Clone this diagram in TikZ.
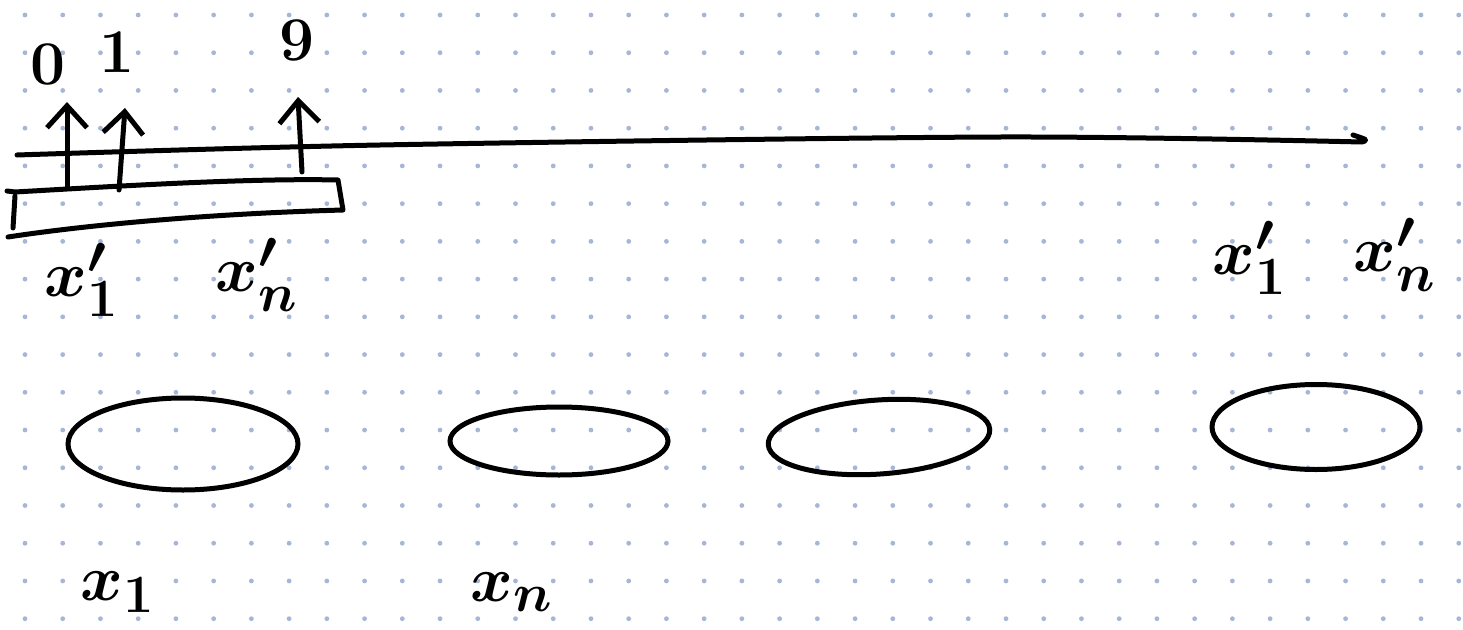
\documentclass[tikz,border=0pt]{standalone}
\usetikzlibrary{arrows.meta, shapes.geometric}
\definecolor{dotcolor}{RGB}{165,182,214}
\tikzset{
  pen/.style={line width=5pt, line cap=round, line join=round},
  uparrow/.style={pen, -{Straight Barb[length=22pt,width=40pt]}},
  loopnode/.style={ellipse, draw, line width=5pt, inner sep=0pt},
  digitlabel/.style={font=\Huge\bfseries, scale=2.5, transform shape, inner sep=0pt},
  varlabel/.style={font=\Huge\boldmath, scale=2.6, transform shape, inner sep=0pt},
}

\begin{document}
\begin{tikzpicture}[x=1pt, y=-1pt]
    \useasboundingbox (0,0) rectangle (1463,629);
    \fill[white] (0,0) rectangle (1463,629);

    % dotted paper
    \foreach \i in {0,...,38}
        \foreach \j in {0,...,16}
            \fill[dotcolor] (25+37.73*\i, 15+37.73*\j) circle (2.4pt);

    % long line
    \draw[pen] plot[smooth] coordinates {(17,155) (380,145) (1000,137) (1362,142)}
        .. controls (1368,140) .. (1353,135);

    % bar
    \draw[pen] (7,191) -- (15,192) .. controls (120,186) and (250,178) .. (338,180)
        -- (343,210) .. controls (200,214) and (80,226) .. (8,237);
    \draw[pen] (15,196) -- (13,228);

    % outputs
    \coordinate (a0) at (67,188);  \coordinate (t0) at (67,102);
    \coordinate (a1) at (119,190); \coordinate (t1) at (125,108);
    \coordinate (a9) at (302,172); \coordinate (t9) at (298,97);
    \draw[uparrow] (a0) -- (t0);
    \draw[uparrow] (a1) -- (t1);
    \draw[uparrow] (a9) -- (t9);

    \node[digitlabel] (zero) at (48,64) {0};
    \node[digitlabel] (one)  at (117,52) {1};
    \node[digitlabel] (nine) at (297,40) {9};

    % primed inputs
    \node[varlabel] (xa) at (82,280) {$x_1'$};
    \node[varlabel] (xb) at (257,275) {$x_n'$};
    \node[varlabel] (xc) at (1250,258) {$x_1'$};
    \node[varlabel] (xd) at (1395,255) {$x_n'$};

    % loops
    \node[loopnode, minimum width=230pt, minimum height=92pt] (l1) at (183,444) {};
    \node[loopnode, minimum width=218pt, minimum height=68pt] (l2) at (559,441) {};
    \node[loopnode, minimum width=222pt, minimum height=74pt, rotate=4] (l3) at (879,437) {};
    \node[loopnode, minimum width=208pt, minimum height=85pt] (l4) at (1316,427) {};

    \node[varlabel] (x1) at (118,592) {$x_1$};
    \node[varlabel] (xn) at (512,592) {$x_n$};
\end{tikzpicture}
\end{document}
